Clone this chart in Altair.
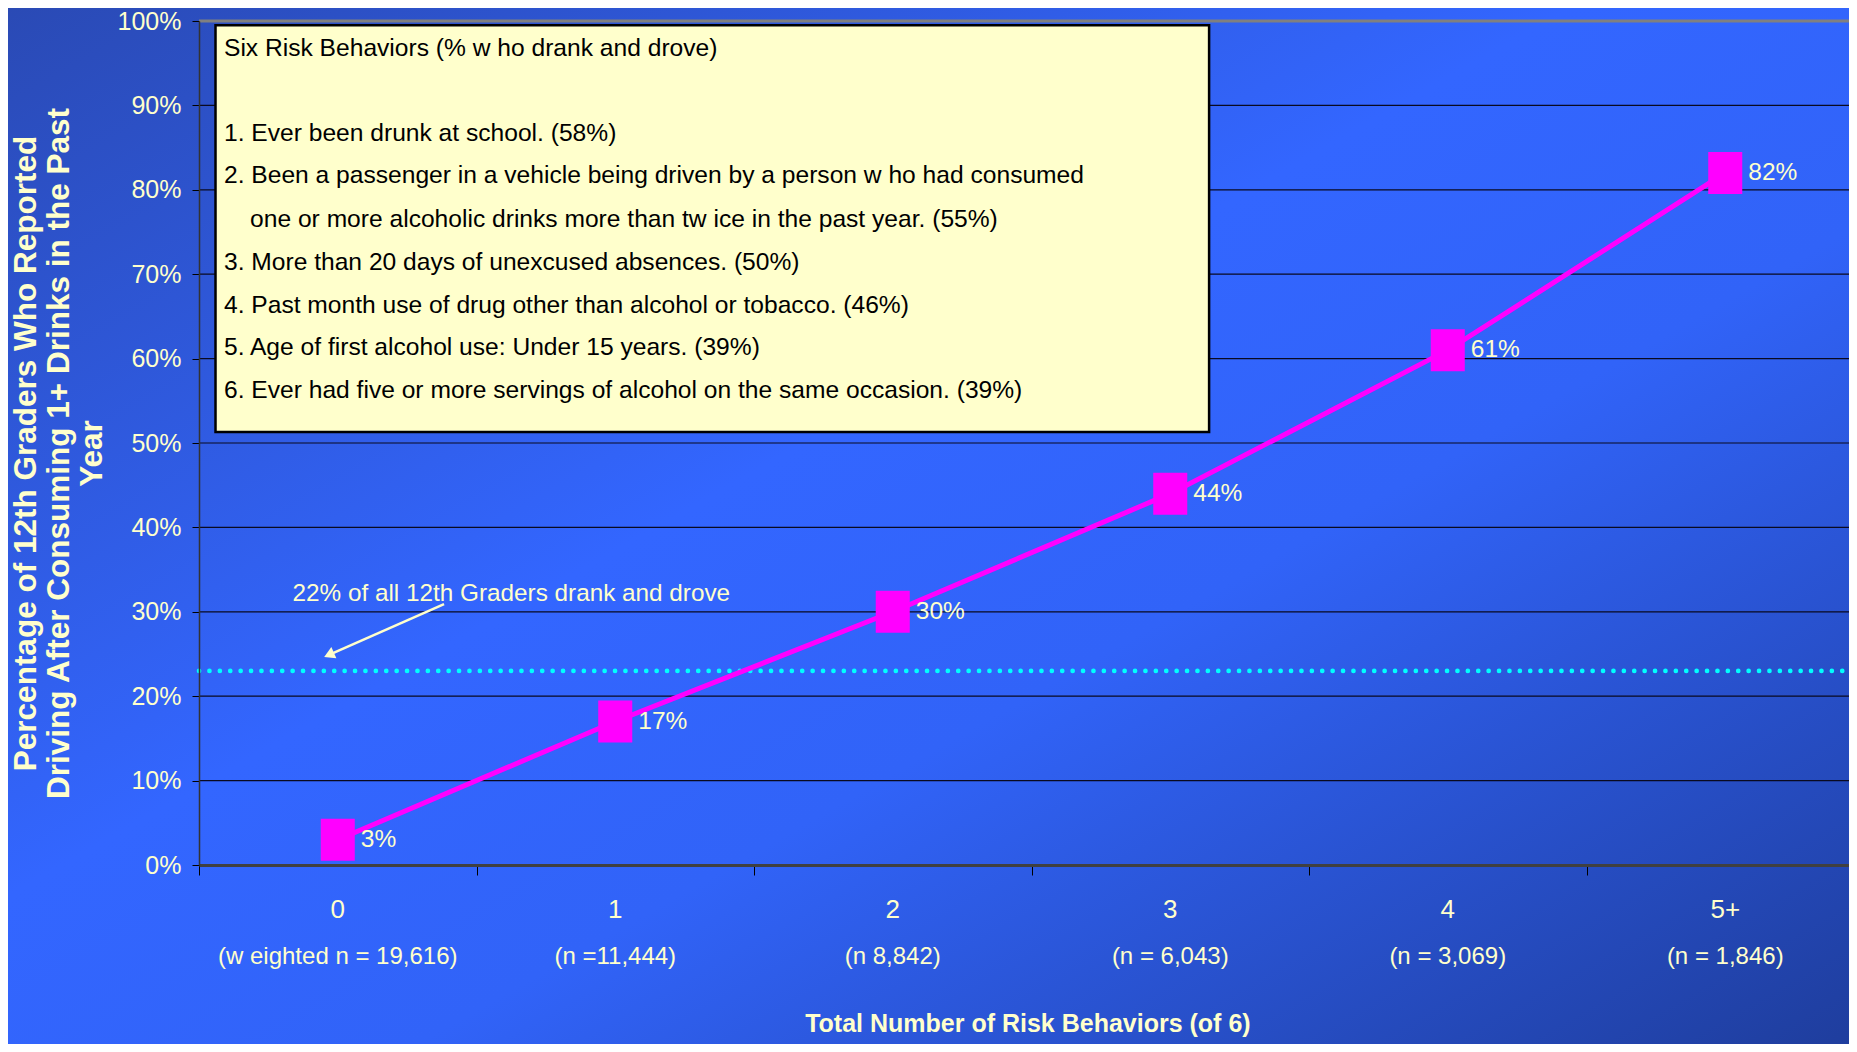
import altair as alt
import pandas as pd

# ---- data ----
categories = ["0", "1", "2", "3", "4", "5+"]
n_labels = ["(w eighted n = 19,616)", "(n =11,444)", "(n 8,842)", "(n = 6,043)", "(n = 3,069)", "(n = 1,846)"]
pct_values = [3, 17, 30, 44, 61, 82]
overall_pct = 23
y_ticks = [0, 10, 20, 30, 40, 50, 60, 70, 80, 90, 100]

box_lines = [
    "Six Risk Behaviors (% w ho drank and drove)",
    "1. Ever been drunk at school. (58%)",
    "2. Been a passenger in a vehicle being driven by a person w ho had consumed",
    "one or more alcoholic drinks more than tw ice in the past year.  (55%)",
    "3. More than 20 days of unexcused absences. (50%)",
    "4. Past month use of drug other than alcohol or tobacco. (46%)",
    "5. Age of first alcohol use: Under 15 years.  (39%)",
    "6. Ever had five or more servings of alcohol on the same occasion.  (39%)",
]
box_line_y = [96.74, 86.61, 81.58, 76.42, 71.33, 66.29, 61.26, 56.16]
box_line_x = [-0.41, -0.41, -0.41, -0.316, -0.41, -0.41, -0.41, -0.41]
box_x = [-0.4405, 3.14]
box_y = [51.3, 99.5]

annot_text = "22% of all 12th Graders drank and drove"
annot_pos = [-0.163, 32.05]
arrow_from = [0.383, 30.9]
arrow_to = [-0.0315, 24.9]

y_title = ["Percentage of 12th Graders Who Reported",
           "Driving After Consuming 1+ Drinks in the Past",
           "Year"]
x_title = "Total Number of Risk Behaviors (of 6)"

# ---- layout ----
W, H = 1650, 844
XDOM = [-0.5, W / 277.5 - 0.5]
CREAM = "#FFFFCC"
FONT = "Liberation Sans, Arial, sans-serif"

df = pd.DataFrame({"idx": list(range(6)), "cat": categories, "n": n_labels,
                   "pct": pct_values,
                   "label": [f"{v}%" for v in pct_values]})

xs = alt.Scale(domain=XDOM, nice=False, zero=False)
ys = alt.Scale(domain=[0, 100], nice=False)

one = pd.DataFrame({"a": [0]})

bg = alt.Chart(one).mark_rect(
    color={"gradient": "linear", "x1": 0, "y1": 0, "x2": 1, "y2": 1,
           "stops": [{"offset": 0, "color": "#2A4AB5"},
                     {"offset": 0.42, "color": "#3366FF"},
                     {"offset": 0.6, "color": "#3163F8"},
                     {"offset": 1, "color": "#1E3C9A"}]}
).encode(x=alt.value(-191), x2=alt.value(W + 20), y=alt.value(-13), y2=alt.value(H + 200))

grid_df = pd.DataFrame({"y": y_ticks[1:-1]})
grid = alt.Chart(grid_df).mark_rule(color="#0A0A20", strokeWidth=1.2).encode(
    y=alt.Y("y:Q", scale=ys), x=alt.value(0), x2=alt.value(W))

top_border = alt.Chart(pd.DataFrame({"y": [100]})).mark_rule(color="#808080", strokeWidth=3).encode(
    y=alt.Y("y:Q", scale=ys), x=alt.value(0), x2=alt.value(W))

ref_line = alt.Chart(pd.DataFrame({"y": [overall_pct]})).mark_rule(
    color="#00FFFF", strokeWidth=4.6, strokeDash=[0.1, 10.3], strokeCap="round").encode(
    y=alt.Y("y:Q", scale=ys), x=alt.value(0), x2=alt.value(W))

box = alt.Chart(pd.DataFrame({"x": [box_x[0]], "x2": [box_x[1]], "y": [box_y[0]], "y2": [box_y[1]]})).mark_rect(
    fill="#FFFFCC", stroke="#000000", strokeWidth=2.5).encode(
    x=alt.X("x:Q", scale=xs), x2="x2:Q", y=alt.Y("y:Q", scale=ys), y2="y2:Q")

box_txt = alt.Chart(pd.DataFrame({"t": box_lines, "x": box_line_x, "y": box_line_y})).mark_text(
    align="left", baseline="middle", font=FONT, fontSize=24.6, color="#000000").encode(
    x=alt.X("x:Q", scale=xs), y=alt.Y("y:Q", scale=ys), text="t:N")

xaxis = alt.Axis(values=[-0.5, 0.5, 1.5, 2.5, 3.5, 4.5], labels=False, title=None, grid=False,
                 tickSize=10, tickColor="#000000", tickWidth=1, domainColor="#404040", domainWidth=3,
                 zindex=1)
yaxis = alt.Axis(values=y_ticks, labelExpr="datum.value + '%'", grid=False,
                 labelFont=FONT, labelFontSize=25, labelColor=CREAM, labelPadding=11,
                 tickSize=7, tickColor="#000000", tickWidth=1, domainColor="#333333", domainWidth=1.5,
                 title=y_title, titleFont=FONT, titleFontWeight="bold", titleFontSize=31.5,
                 titleColor=CREAM, titleLineHeight=33, titleAngle=-90, titleAlign="center",
                 titleBaseline="middle", titleX=-173, titleY=432, zindex=1)

line = alt.Chart(df).mark_line(color="#FF00FF", strokeWidth=5).encode(
    x=alt.X("idx:Q", scale=xs, axis=xaxis), y=alt.Y("pct:Q", scale=ys, axis=yaxis))

pts = alt.Chart(df).mark_point(shape="M-0.81,-1H0.81V1H-0.81Z", filled=True, size=1764,
                               color="#FF00FF", opacity=1).encode(
    x=alt.X("idx:Q", scale=xs), y=alt.Y("pct:Q", scale=ys))

pt_labels = alt.Chart(df).mark_text(align="left", baseline="middle", dx=23, font=FONT,
                                    fontSize=24.5, color=CREAM).encode(
    x=alt.X("idx:Q", scale=xs), y=alt.Y("pct:Q", scale=ys), text="label:N")

cat_txt = alt.Chart(df).mark_text(align="center", baseline="middle", font=FONT, fontSize=26,
                                  color=CREAM).encode(
    x=alt.X("idx:Q", scale=xs), y=alt.value(H + 44.5), text="cat:N")

n_txt = alt.Chart(df).mark_text(align="center", baseline="middle", font=FONT, fontSize=24,
                                color=CREAM).encode(
    x=alt.X("idx:Q", scale=xs), y=alt.value(H + 92), text="n:N")

xt = alt.Chart(pd.DataFrame({"x": [2.487], "t": [x_title]})).mark_text(
    align="center", baseline="middle", font=FONT, fontWeight="bold", fontSize=25, color=CREAM).encode(
    x=alt.X("x:Q", scale=xs), y=alt.value(H + 159), text="t:N")

annot = alt.Chart(pd.DataFrame({"x": [annot_pos[0]], "y": [annot_pos[1]], "t": [annot_text]})).mark_text(
    align="left", baseline="middle", font=FONT, fontSize=24.3, color=CREAM).encode(
    x=alt.X("x:Q", scale=xs), y=alt.Y("y:Q", scale=ys), text="t:N")

arrow = alt.Chart(pd.DataFrame({"x": [arrow_from[0]], "y": [arrow_from[1]],
                                "x2": [arrow_to[0]], "y2": [arrow_to[1]]})).mark_rule(
    color=CREAM, strokeWidth=2.5).encode(
    x=alt.X("x:Q", scale=xs), y=alt.Y("y:Q", scale=ys), x2="x2:Q", y2="y2:Q")

arrow_head = alt.Chart(pd.DataFrame({"x": [arrow_to[0]], "y": [arrow_to[1]]})).mark_point(
    shape="triangle-up", filled=True, size=150, angle=246, color=CREAM, opacity=1).encode(
    x=alt.X("x:Q", scale=xs), y=alt.Y("y:Q", scale=ys))

chart = alt.layer(
    bg, grid, top_border, box, box_txt, ref_line, annot, arrow, arrow_head,
    line, pts, pt_labels, cat_txt, n_txt, xt
).properties(
    width=W, height=H,
    autosize=alt.AutoSizeParams(type="none"),
    padding={"left": 191, "top": 13, "right": 0, "bottom": 179},
    background="#2A4AB5",
).configure_view(strokeWidth=0)

chart.save("out.html", embed_options={"renderer": "svg", "actions": False})
